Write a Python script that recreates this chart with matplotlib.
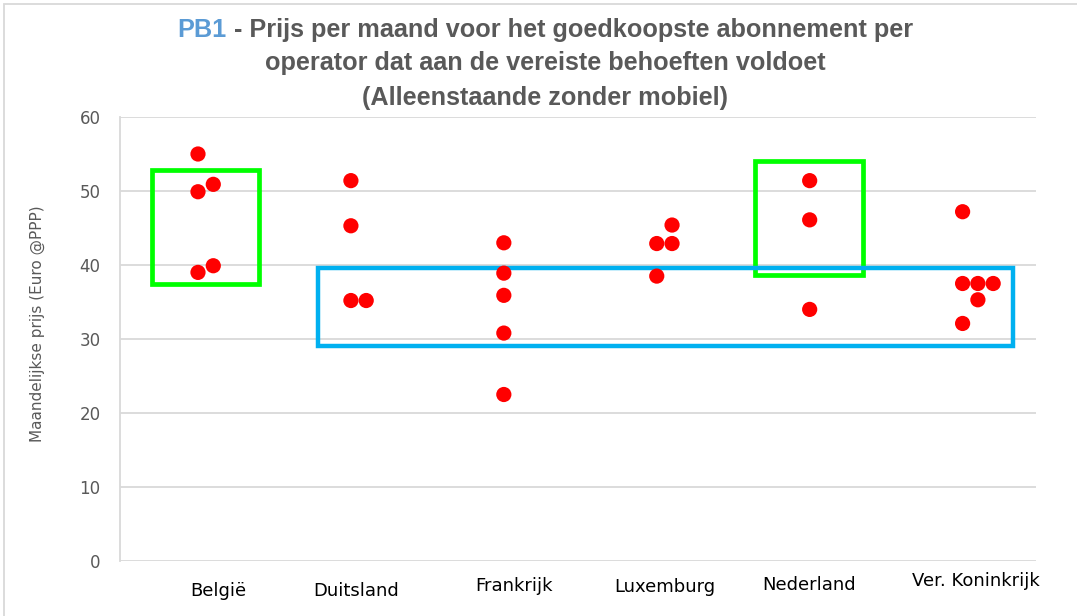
import numpy as np
import matplotlib.pyplot as plt
from matplotlib.patches import Rectangle
from matplotlib.transforms import ScaledTranslation

# data
countries = ["België", "Duitsland", "Frankrijk", "Luxemburg", "Nederland", "Ver. Koninkrijk"]
belgie = [55.0, 49.9, 50.9, 39.0, 39.9]
duitsland = [51.4, 45.3, 35.2, 35.2]
frankrijk = [43.0, 38.9, 35.9, 30.8, 22.5]
luxemburg = [38.5, 42.9, 42.9, 45.4]
nederland = [51.4, 46.1, 34.0]
ver_koninkrijk = [47.2, 37.5, 37.5, 37.5, 35.3, 32.1]
# column of each dot inside its category (dots with equal values sit side by side)
belgie_col = [0, 0, 1, 0, 1]
duitsland_col = [0, 0, 0, 1]
frankrijk_col = [0, 0, 0, 0, 0]
luxemburg_col = [0, 0, 1, 1]
nederland_col = [0, 0, 0]
ver_koninkrijk_col = [0, 0, 1, 2, 1, 0]

values = [belgie, duitsland, frankrijk, luxemburg, nederland, ver_koninkrijk]
columns = [belgie_col, duitsland_col, frankrijk_col, luxemburg_col, nederland_col, ver_koninkrijk_col]

GREY = "#595959"
TITLE_FONT = ["Liberation Sans", "DejaVu Sans"]

fig = plt.figure(figsize=(10.77, 6.16), dpi=100)
ax = fig.add_axes([120 / 1077, 1 - 561 / 616, 916 / 1077, 444 / 616])

for i, (vals, cols) in enumerate(zip(values, columns)):
    xs = i + 0.1 * np.array(cols)
    ax.scatter(xs, vals, s=120, color="#FF0000", edgecolor="none", zorder=4)

# highlight boxes
ax.add_patch(Rectangle((-0.30, 37.4), 0.70, 15.4, fill=False, edgecolor="#00FF00", lw=3.4, zorder=3))
ax.add_patch(Rectangle((4 - 0.36, 38.6), 0.71, 15.5, fill=False, edgecolor="#00FF00", lw=3.4, zorder=3))
ax.add_patch(Rectangle((0.785, 29.1), 4.545, 10.5, fill=False, edgecolor="#00B0F0", lw=3.2, zorder=3))

ax.set_xlim(-0.51, 5.48)
ax.set_ylim(0, 60)
ax.set_yticks(range(0, 61, 10))
ax.yaxis.grid(True, color="#d9d9d9", lw=1.3)
ax.set_axisbelow(True)
for side in ["top", "right", "bottom"]:
    ax.spines[side].set_visible(False)
ax.spines["left"].set_color("#d9d9d9")
ax.spines["left"].set_linewidth(1.3)
ax.tick_params(axis="both", length=0)
ax.tick_params(axis="y", labelsize=12, labelcolor=GREY, pad=14)

ax.set_xticks(range(len(countries)))
ax.set_xticklabels(countries, fontsize=13, color="black")
ax.tick_params(axis="x", pad=11)
label_shift = [(20, -6), (5, -6), (10, -1), (8, -2), (-1, 0), (13, 4)]
for lab, (dx, dy) in zip(ax.get_xticklabels(), label_shift):
    lab.set_transform(lab.get_transform() + ScaledTranslation(dx / 100, dy / 100, fig.dpi_scale_trans))

ax.set_ylabel("Maandelijkse prijs (Euro @PPP)", fontsize=11, color=GREY)
ax.yaxis.set_label_coords(-0.082, 0.534)

# title, first word in blue
title_kw = dict(fontsize=18.2, fontweight="bold", family=TITLE_FONT, va="center")
fig.canvas.draw()
renderer = fig.canvas.get_renderer()
rest = fig.text(0, 1 - 30 / 616, " - Prijs per maand voor het goedkoopste abonnement per",
                color=GREY, ha="left", **title_kw)
pb = fig.text(0, 1 - 30 / 616, "PB1", color="#5B9BD5", ha="left", **title_kw)
w_rest = rest.get_window_extent(renderer).width
w_pb = pb.get_window_extent(renderer).width
x0 = 545 - (w_rest + w_pb) / 2
pb.set_x(x0 / 1077)
rest.set_x((x0 + w_pb) / 1077)
fig.text(545 / 1077, 1 - 63 / 616, "operator dat aan de vereiste behoeften voldoet",
         color=GREY, ha="center", **title_kw)
fig.text(545 / 1077, 1 - 98 / 616, "(Alleenstaande zonder mobiel)",
         color=GREY, ha="center", **title_kw)

# outer frame of the chart area
fig.add_artist(Rectangle((4 / 1077, -0.1), 1.2, 1 - 4 / 616 + 0.1, transform=fig.transFigure,
                         fill=False, edgecolor="#d9d9d9", lw=1.3))

fig.savefig("out.png", dpi=100)
